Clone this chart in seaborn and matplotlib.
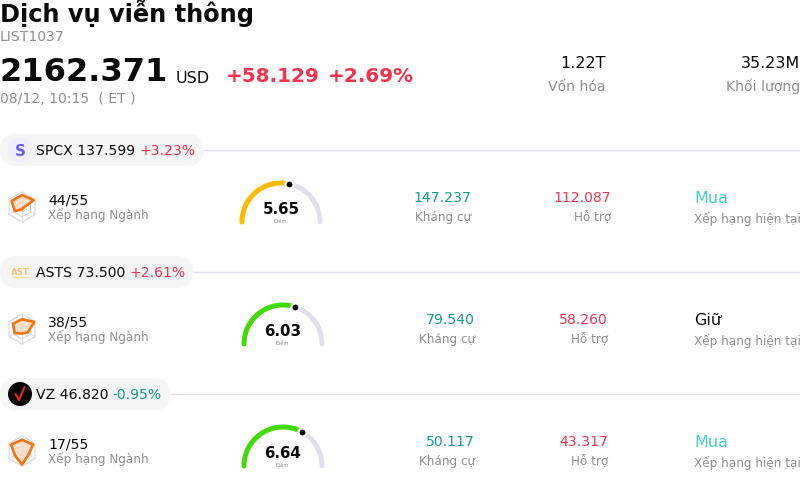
import numpy as np
import matplotlib.pyplot as plt
from matplotlib.patches import FancyBboxPatch, Circle
import seaborn as sns

sns.set_theme(style="white")
plt.rcParams['font.family'] = ['DejaVu Sans']

BLACK = "#0a0a0a"
MUTED = "#8f8f94"
RED = "#f5334f"
GREEN = "#0e9f87"
TEAL = "#45cfc4"
LINE = "#e2e1ec"
PILL = "#f5f5f6"
ORANGE = "#f5730f"

# header values
title = "Dịch vụ viễn thông"
code = "LIST1037"
price = "2162.371"
change = "+58.129"
change_pct = "+2.69%"
stamp = "08/12, 10:15  ( ET )"
market_cap = "1.22T"
volume = "35.23M"

# one entry per stock
tickers = ["SPCX", "ASTS", "VZ"]
prices = ["137.599", "73.500", "46.820"]
moves = ["+3.23%", "+2.61%", "-0.95%"]
ranks = ["44/55", "38/55", "17/55"]
scores = [5.65, 6.03, 6.64]
score_colors = ["#fdbb00", "#3fdc00", "#3fdc00"]
resistance = ["147.237", "79.540", "50.117"]
support = ["112.087", "58.260", "43.317"]
ratings = ["Mua", "Giữ", "Mua"]
rating_colors = [TEAL, BLACK, TEAL]
# radar spokes, clockwise from the top
radar_values = [
    [0.80, 0.90, 0.10, 0.15, 0.55, 0.80],
    [0.65, 0.95, 0.45, 0.30, 0.55, 0.70],
    [0.75, 0.85, 0.50, 0.90, 0.55, 0.85],
]

# layout, in pixels
row_y = [0, 122, 244]
pill_w = [203, 193, 170]
gauge_x = [281, 283, 283]
resist_x = [471, 475, 475]
support_x = [611, 608, 608]
RADAR_R = 15


def px(size):
    return size * 0.72


def label(x, y, s, size, color=BLACK, ha="left", weight="normal"):
    return ax.text(x, y, s, fontsize=px(size), color=color, ha=ha, va="baseline", fontweight=weight)


def radar(cx, cy, values):
    angles = np.radians(90 - np.arange(6) * 60)
    for r in [0.33, 0.66, 1.0]:
        ax.fill(cx + RADAR_R * r * np.cos(angles), cy - RADAR_R * r * np.sin(angles),
                fc="none", ec="#d6d6e2", lw=0.8, zorder=2)
    for a in angles:
        ax.plot([cx, cx + RADAR_R * np.cos(a)], [cy, cy - RADAR_R * np.sin(a)], color="#dcdce6", lw=0.7, zorder=2)
    v = np.array(values) * RADAR_R
    ax.fill(cx + v * np.cos(angles), cy - v * np.sin(angles),
            fc="#f8d8bd", alpha=0.7, ec="none", zorder=3)
    ax.fill(cx + v * np.cos(angles), cy - v * np.sin(angles),
            fc="none", ec=ORANGE, lw=1.9, joinstyle="round", zorder=4)


def gauge(cx, cy, score, color):
    radius = 39
    full = np.radians(np.linspace(180, 0, 91))
    part = np.radians(np.linspace(180, 180 * (1 - score / 10), 60))
    sns.lineplot(x=cx + radius * np.cos(full), y=cy - radius * np.sin(full), sort=False, estimator=None,
                 color="#e0e0ea", lw=3.5, solid_capstyle="round", ax=ax, zorder=3)
    sns.lineplot(x=cx + radius * np.cos(part), y=cy - radius * np.sin(part), sort=False, estimator=None,
                 color=color, lw=3.5, solid_capstyle="round", ax=ax, zorder=4)
    tip = np.radians(180 * (1 - score / 10))
    sns.scatterplot(x=[cx + radius * np.cos(tip)], y=[cy - radius * np.sin(tip)], s=34, color="black",
                    edgecolor="white", linewidth=1.6, ax=ax, zorder=5)
    label(cx, cy - 8, f"{score:.2f}", 15, BLACK, "center", "bold")
    label(cx, cy + 1, "Điểm", 5, MUTED, "center")


fig = plt.figure(figsize=(8, 4.88), dpi=100, facecolor="white")
ax = fig.add_axes([0, 0, 1, 1])
ax.set_xlim(0, 800)
ax.set_ylim(488, 0)
ax.axis("off")

label(0, 22, title, 24, BLACK, weight="bold")
label(0, 41, code, 14, MUTED)
label(0, 81, price, 32.2, BLACK, weight="bold")
label(176, 83, "USD", 16, BLACK)
label(226, 82, change, 20, RED, weight="bold")
label(328, 82, change_pct, 20, RED, weight="bold")
label(0, 103, stamp, 14, MUTED)
label(606, 68, market_cap, 16, BLACK, "right")
label(606, 91, "Vốn hóa", 14, MUTED, "right")
label(800, 68, volume, 16, BLACK, "right")
label(800, 91, "Khối lượng", 14, MUTED, "right")

for i, dy in enumerate(row_y):
    # ticker pill and separator
    ax.hlines(150 + dy, pill_w[i], 800, color=LINE, lw=1)
    ax.add_patch(FancyBboxPatch((0, 134 + dy), pill_w[i], 32, boxstyle="round,pad=0,rounding_size=16",
                                fc=PILL, ec="none", zorder=1))
    t = label(36, 155 + dy, f"{tickers[i]} {prices[i]}", 14)
    t.set_zorder(5)
    fig.canvas.draw()
    end = t.get_window_extent().x1
    label(end + 4, 155 + dy, moves[i], 14, GREEN if moves[i].startswith("-") else RED).set_zorder(5)

    # rank
    radar(22, 207 + dy, radar_values[i])
    label(48, 204 + dy, ranks[i], 14)
    label(48, 219 + dy, "Xếp hạng Ngành", 12, MUTED)

    gauge(gauge_x[i], 222 + dy, scores[i], score_colors[i])

    label(resist_x[i], 202 + dy, resistance[i], 14, GREEN, "right")
    label(resist_x[i], 221 + dy, "Kháng cự", 12, MUTED, "right")
    label(support_x[i], 202 + dy, support[i], 14, RED, "right")
    label(support_x[i], 221 + dy, "Hỗ trợ", 12, MUTED, "right")
    label(694, 203 + dy, ratings[i], 16, rating_colors[i])
    label(694, 223 + dy, "Xếp hạng hiện tại", 12, MUTED)

# ticker logos
ax.add_patch(Circle((20, 150), 12, fc="#f0eefc", ec="none", zorder=2))
ax.text(20, 156, "S", fontsize=px(15), fontweight="bold", color="#6c5cf0", ha="center", va="baseline", zorder=3)
ax.text(20, 275, "AST", fontsize=px(8.5), fontweight="bold", color="#f9c07a", ha="center", va="baseline", zorder=3)
ax.hlines(277, 12, 28, color="#fbd6a4", lw=1, zorder=3)
ax.add_patch(Circle((20, 394), 12, fc="black", ec="none", zorder=2))
ax.plot([15.5, 19, 24.5], [394, 400, 387], color="#e8291c", lw=1.5, zorder=3)

fig.savefig("out.png", dpi=100, facecolor="white")
